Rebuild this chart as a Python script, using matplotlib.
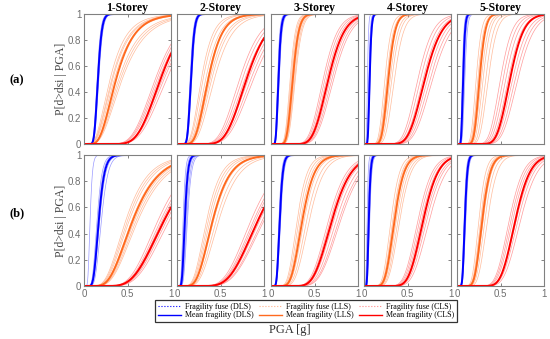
import numpy as np
import matplotlib
matplotlib.use("Agg")
import matplotlib.pyplot as plt
from matplotlib.lines import Line2D
from math import erf, sqrt

# ---------------- data (lognormal fragility parameters) ----------
storeys = ["1-Storey", "2-Storey", "3-Storey", "4-Storey", "5-Storey"]
row_labels = ["(a)", "(b)"]
yticks = [0, 0.2, 0.4, 0.6, 0.8, 1]
ytick_labels = ["0", "0.2", "0.4", "0.6", "0.8", "1"]
xticks = [0, 0.5, 1]
xtick_labels = ["0", "0.5", "1"]

# row (a) – mean curves: median PGA [g] and dispersion
a_dls_med = [0.16, 0.16, 0.085, 0.065, 0.07]
a_dls_beta = [0.22, 0.20, 0.28, 0.25, 0.25]
a_lls_med = [0.37, 0.36, 0.25, 0.28, 0.26]
a_lls_beta = [0.45, 0.35, 0.22, 0.22, 0.20]
a_cls_med = [0.88, 0.80, 0.66, 0.70, 0.61]
a_cls_beta = [0.25, 0.25, 0.22, 0.22, 0.20]

# row (a) – fuse curves (medians), dispersion per state/panel
a_dls_fuse = [[0.15, 0.155, 0.165, 0.17], [0.15, 0.155, 0.165, 0.17],
              [0.08, 0.09, 0.095, 0.075], [0.04, 0.055, 0.06, 0.07], [0.06, 0.065, 0.08, 0.09]]
a_lls_fuse = [[0.30, 0.32, 0.33, 0.35, 0.40, 0.42, 0.44],
              [0.28, 0.30, 0.33, 0.35, 0.38, 0.40, 0.43],
              [0.22, 0.23, 0.24, 0.26, 0.27, 0.28],
              [0.24, 0.26, 0.27, 0.30, 0.32, 0.35],
              [0.22, 0.24, 0.25, 0.28, 0.30, 0.33, 0.36]]
a_lls_fuse_beta = [0.5, 0.38, 0.22, 0.24, 0.22]
a_cls_fuse = [[0.82, 0.84, 0.86, 0.90, 0.92, 0.95],
              [0.72, 0.75, 0.78, 0.82, 0.85, 0.88],
              [0.60, 0.62, 0.64, 0.68, 0.70, 0.72],
              [0.62, 0.65, 0.68, 0.73, 0.76, 0.79],
              [0.50, 0.53, 0.56, 0.59, 0.64, 0.67, 0.70]]
a_cls_fuse_beta = [0.27, 0.27, 0.22, 0.22, 0.21]

# row (b)
b_dls_med = [0.17, 0.09, 0.10, 0.055, 0.09]
b_dls_beta = [0.30, 0.30, 0.28, 0.30, 0.25]
b_lls_med = [0.56, 0.41, 0.36, 0.35, 0.29]
b_lls_beta = [0.42, 0.38, 0.30, 0.25, 0.25]
b_cls_med = [0.92, 0.93, 0.70, 0.68, 0.67]
b_cls_beta = [0.33, 0.30, 0.25, 0.20, 0.20]

b_dls_fuse = [[0.07, 0.15, 0.16, 0.18, 0.20], [0.07, 0.08, 0.10, 0.11, 0.12],
              [0.09, 0.095, 0.105, 0.11], [0.035, 0.045, 0.05, 0.06, 0.065], [0.08, 0.085, 0.095, 0.10]]
b_lls_fuse = [[0.48, 0.50, 0.52, 0.55, 0.58, 0.60, 0.62],
              [0.34, 0.36, 0.38, 0.42, 0.45, 0.48],
              [0.30, 0.32, 0.34, 0.38, 0.41, 0.44],
              [0.31, 0.33, 0.34, 0.37, 0.39, 0.41],
              [0.25, 0.27, 0.28, 0.30, 0.32, 0.35]]
b_lls_fuse_beta = [0.42, 0.38, 0.30, 0.25, 0.25]
b_cls_fuse = [[0.85, 0.88, 0.90, 0.93, 0.95, 0.98],
              [0.85, 0.88, 0.90, 0.95, 0.98, 1.00],
              [0.66, 0.68, 0.72, 0.75, 0.78, 0.80],
              [0.62, 0.64, 0.66, 0.70, 0.72, 0.75],
              [0.60, 0.62, 0.64, 0.68, 0.70, 0.73]]
b_cls_fuse_beta = [0.32, 0.30, 0.25, 0.21, 0.21]

# ---------------- styling ----------------
C_DLS = "#0000FF"
C_LLS = "#FF6A1F"
C_CLS = "#FF0000"
C_DLS_F = "#8080FF"
C_LLS_F = "#FFB08A"
C_CLS_F = "#FF8A8A"
GRAY = "#6E6E6E"
SERIF = ["Liberation Serif", "DejaVu Serif"]
SANS = ["Liberation Sans", "DejaVu Sans"]

pga = np.linspace(0.001, 1.0, 400)
_erf = np.vectorize(erf)


def frag(med, beta):
    return 0.5 * (1 + _erf(np.log(pga / med) / (beta * sqrt(2))))


fig = plt.figure(figsize=(5.5, 3.39), dpi=100)
W, H = 550.0, 339.0
lefts = [84, 177, 271, 364, 457]
pw = 87
rows_px = [(14, 144), (155, 286)]

rows_data = [
    (a_dls_med, a_dls_beta, a_lls_med, a_lls_beta, a_cls_med, a_cls_beta,
     a_dls_fuse, a_lls_fuse, a_lls_fuse_beta, a_cls_fuse, a_cls_fuse_beta),
    (b_dls_med, b_dls_beta, b_lls_med, b_lls_beta, b_cls_med, b_cls_beta,
     b_dls_fuse, b_lls_fuse, b_lls_fuse_beta, b_cls_fuse, b_cls_fuse_beta),
]

for r, (top, bot) in enumerate(rows_px):
    (dm, db, lm, lb, cm, cb, dfz, lfz, lfb, cfz, cfb) = rows_data[r]
    for c in range(5):
        ax = fig.add_axes([lefts[c] / W, 1 - bot / H, pw / W, (bot - top) / H])
        for m in dfz[c]:
            ax.plot(pga, frag(m, db[c]), color=C_DLS_F, lw=0.5, alpha=0.8)
        for m in lfz[c]:
            ax.plot(pga, frag(m, lfb[c]), color=C_LLS_F, lw=0.5, alpha=0.85)
        for m in cfz[c]:
            ax.plot(pga, frag(m, cfb[c]), color=C_CLS_F, lw=0.5, alpha=0.85)
        ax.plot(pga, frag(dm[c], db[c]), color=C_DLS, lw=1.4)
        ax.plot(pga, frag(lm[c], lb[c]), color=C_LLS, lw=1.4)
        ax.plot(pga, frag(cm[c], cb[c]), color=C_CLS, lw=1.4)

        ax.set_xlim(0, 1)
        ax.set_ylim(0, 1)
        ax.set_xticks(xticks)
        ax.set_yticks(yticks)
        ax.tick_params(direction="in", length=2, width=0.6, colors=GRAY,
                       labelsize=7, pad=2, top=True, right=True)
        for s in ax.spines.values():
            s.set_color("#808080")
            s.set_linewidth(0.8)
        if r == 0:
            ax.set_xticklabels([])
            ax.set_title(storeys[c], fontsize=8.5, fontweight="bold", family=SERIF, pad=1)
        else:
            ax.set_xticklabels(xtick_labels, family=SANS)
        if c == 0:
            ax.set_yticklabels(ytick_labels, family=SANS)
            ax.set_ylabel("P[d>dsi | PGA]", family=SERIF, fontsize=8.5, color="#444444", labelpad=0.5)
        else:
            ax.set_yticklabels([])

fig.text(9 / W, 1 - 80 / H, row_labels[0], family=SERIF, fontsize=9, fontweight="bold",
         ha="left", va="center")
fig.text(9 / W, 1 - 213 / H, row_labels[1], family=SERIF, fontsize=9, fontweight="bold",
         ha="left", va="center")
fig.text(290 / W, 1 - 330 / H, "PGA [g]", family=SERIF, fontsize=9, ha="center", va="center",
         color="#333333")

handles = [
    Line2D([], [], color=C_DLS, lw=0.8, ls=":"),
    Line2D([], [], color=C_DLS, lw=1.0),
    Line2D([], [], color=C_LLS_F, lw=0.8, ls=":"),
    Line2D([], [], color=C_LLS, lw=1.0),
    Line2D([], [], color=C_CLS_F, lw=0.8, ls=":"),
    Line2D([], [], color=C_CLS, lw=1.0),
]
labels = ["Fragility fuse (DLS)", "Mean fragility (DLS)",
          "Fragility fuse (LLS)", "Mean fragility (LLS)",
          "Fragility fuse (CLS)", "Mean fragility (CLS)"]
leg = fig.legend(handles, labels, ncol=3, loc="center",
                 bbox_to_anchor=(306 / W, 1 - 311 / H),
                 prop={"family": SERIF, "size": 5.8}, frameon=True, fancybox=False,
                 edgecolor="black", borderpad=0.3, handlelength=2.9, handletextpad=0.5,
                 columnspacing=0.6, labelspacing=0.1, borderaxespad=0)
leg.get_frame().set_linewidth(0.9)

fig.savefig("out.png", dpi=100)
